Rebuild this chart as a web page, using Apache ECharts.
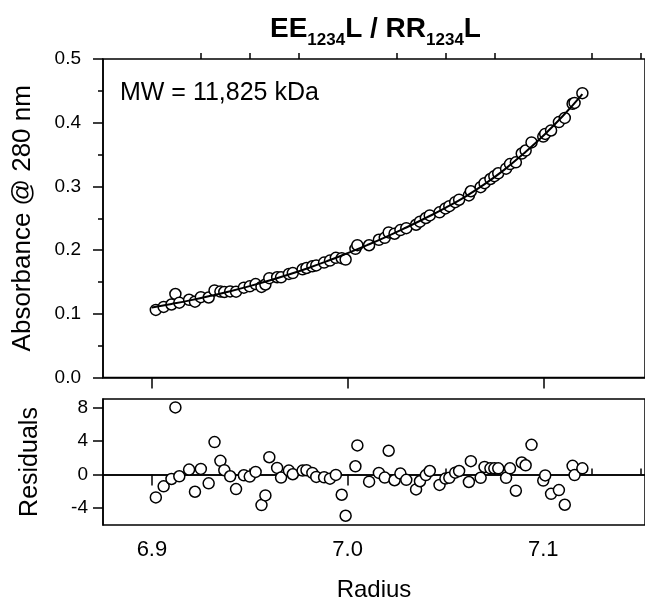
<!DOCTYPE html>
<html>
<head>
<meta charset="utf-8">
<script src="https://cdn.jsdelivr.net/npm/echarts@6/dist/echarts.min.js"></script>
<style>
  html, body { margin: 0; padding: 0; background: #fff; }
  #mainChart { width: 645px; height: 603px; }
</style>
</head>
<body>
<div id="mainChart"></div>
<script>
// fitted curve
const fitRadius = [6.90, 6.91, 6.92, 6.93, 6.94, 6.95, 6.96, 6.97, 6.98, 6.99, 7.00, 7.01,
  7.02, 7.03, 7.04, 7.05, 7.06, 7.07, 7.08, 7.09, 7.10, 7.11, 7.12];
const fitAbs = [0.1100, 0.1155, 0.1215, 0.1282, 0.1355, 0.1435, 0.1522, 0.1617, 0.1720, 0.1832,
  0.1952, 0.2078, 0.2212, 0.2355, 0.2505, 0.2662, 0.2835, 0.3035, 0.3260, 0.3515, 0.3795, 0.4105, 0.4450];

// measured points (radius, absorbance, residual)
const radius = [6.902, 6.906, 6.910, 6.912, 6.914, 6.919, 6.922, 6.925, 6.929, 6.932, 6.935, 6.937,
  6.940, 6.943, 6.947, 6.950, 6.953, 6.956, 6.958, 6.960, 6.964, 6.966, 6.970, 6.972,
  6.977, 6.979, 6.982, 6.984, 6.988, 6.991, 6.994, 6.997, 6.999, 7.004, 7.005, 7.011,
  7.016, 7.019, 7.021, 7.024, 7.027, 7.030, 7.035, 7.037, 7.040, 7.042, 7.047, 7.050,
  7.052, 7.055, 7.057, 7.062, 7.063, 7.068, 7.070, 7.073, 7.075, 7.077, 7.081, 7.083,
  7.086, 7.089, 7.091, 7.094, 7.100, 7.101, 7.104, 7.108, 7.111, 7.115, 7.116, 7.120];
const absorbance = [0.1061, 0.1108, 0.1146, 0.1311, 0.1175, 0.1220, 0.1191, 0.1261, 0.1256, 0.1367, 0.1349, 0.1342,
  0.1351, 0.1348, 0.1410, 0.1431, 0.1467, 0.1422, 0.1460, 0.1559, 0.1574, 0.1573, 0.1626, 0.1639,
  0.1698, 0.1719, 0.1746, 0.1760, 0.1804, 0.1835, 0.1879, 0.1873, 0.1852, 0.2020, 0.2077, 0.2076,
  0.2162, 0.2193, 0.2277, 0.2257, 0.2314, 0.2344, 0.2398, 0.2446, 0.2504, 0.2544, 0.2593, 0.2654,
  0.2690, 0.2753, 0.2791, 0.2859, 0.2924, 0.2988, 0.3051, 0.3116, 0.3161, 0.3206, 0.3279, 0.3350,
  0.3378, 0.3516, 0.3563, 0.3691, 0.3782, 0.3824, 0.3878, 0.4010, 0.4075, 0.4297, 0.4311, 0.4464];
const residual = [-2.72, -1.4, -0.52, 8.0, -0.2, 0.6, -2.04, 0.68, -1.04, 3.87, 1.64, 0.52,
  -0.2, -1.72, -0.08, -0.24, 0.32, -3.63, -2.48, 2.07, 0.8, -0.36, 0.48, 0.04,
  0.48, 0.52, 0.2, -0.28, -0.32, -0.48, -0.04, -2.4, -4.9, 0.99, 3.47, -0.84,
  0.2, -0.36, 2.84, -0.67, 0.12, -0.62, -1.76, -0.79, -0.06, 0.43, -1.23, -0.47,
  -0.38, 0.23, 0.43, -0.88, 1.6, -0.38, 0.91, 0.75, 0.75, 0.75, -0.38, 0.75,
  -1.92, 1.44, 1.11, 3.54, -0.71, -0.1, -2.29, -1.84, -3.59, 1.04, -0.06, 0.75];

// tick positions
const radiusMajor = [6.9, 7.0, 7.1];
const radiusMinor = [6.925, 6.95, 6.975, 7.025, 7.05, 7.075, 7.125, 7.15];
const residMajor = [-4, 0, 4, 8];
const residMinor = [-2, 2, 6];

const FONT = "Liberation Sans, Arial, Helvetica, sans-serif";

const myChart = echarts.init(document.getElementById("mainChart"));

function xAxisFor(grid, ticks, len, labels, name) {
  return {
    type: "value",
    gridIndex: grid,
    min: 6.875,
    max: 7.152,
    axisLine: { show: labels !== null || len > 8, lineStyle: { color: "#000", width: 1.5 } },
    axisTick: { show: true, customValues: ticks, length: len, lineStyle: { color: "#000", width: 1.5 } },
    axisLabel: labels
      ? { show: true, customValues: labels, color: "#000", fontSize: 22, fontFamily: FONT, margin: 14,
          formatter: (v) => v.toFixed(1) }
      : { show: false },
    splitLine: { show: false },
    name: name || "",
    nameLocation: "middle",
    nameGap: 53,
    nameTextStyle: { color: "#000", fontSize: 24, fontFamily: FONT },
  };
}

const option = {
  animation: false,
  backgroundColor: "#fff",
  title: {
    left: 265,
    top: 10,
    text: "{a|EE}{s|1234}{a|L / RR}{s|1234}{a|L}",
    textStyle: {
      rich: {
        a: { fontSize: 28, fontWeight: "bold", fontFamily: FONT, color: "#000", lineHeight: 34, verticalAlign: "top" },
        s: { fontSize: 17, fontWeight: "bold", fontFamily: FONT, color: "#000", lineHeight: 17, verticalAlign: "bottom" },
      },
    },
  },
  graphic: [
    {
      type: "text",
      left: 120,
      top: 81,
      style: { text: "MW = 11,825 kDa", font: "25px " + FONT, fill: "#000" },
    },
  ],
  grid: [
    { left: 103, top: 59, right: -2, height: 318.5, show: true, borderColor: "#000", borderWidth: 1.5 },
    { left: 103, top: 399, right: -2, height: 127, show: true, borderColor: "#000", borderWidth: 1.5 },
  ],
  xAxis: [
    xAxisFor(0, radiusMajor, 11, null),
    xAxisFor(0, radiusMinor, 6, null),
    xAxisFor(1, radiusMajor, 11, radiusMajor, "Radius"),
    xAxisFor(1, radiusMinor, 6, null),
  ],
  yAxis: [
    {
      type: "value",
      gridIndex: 0,
      min: 0,
      max: 0.5,
      interval: 0.1,
      axisLine: { show: true, lineStyle: { color: "#000", width: 1.5 } },
      axisTick: { length: 10, lineStyle: { color: "#000", width: 1.5 } },
      minorTick: { show: true, splitNumber: 2, length: 5, lineStyle: { color: "#000", width: 1.5 } },
      axisLabel: { color: "#000", fontSize: 19, fontFamily: FONT, margin: 22, formatter: (v) => v.toFixed(1) },
      splitLine: { show: false },
      name: "Absorbance @ 280 nm",
      nameLocation: "middle",
      nameGap: 67,
      nameTextStyle: { color: "#000", fontSize: 26, fontFamily: FONT },
    },
    {
      type: "value",
      gridIndex: 1,
      min: -6,
      max: 9,
      axisLine: { show: true, lineStyle: { color: "#000", width: 1.5 } },
      axisTick: { customValues: residMajor, length: 10, lineStyle: { color: "#000", width: 1.5 } },
      axisLabel: { customValues: residMajor, color: "#000", fontSize: 19, fontFamily: FONT, margin: 15 },
      splitLine: { show: false },
      name: "Residuals",
      nameLocation: "middle",
      nameGap: 60,
      nameTextStyle: { color: "#000", fontSize: 25, fontFamily: FONT },
    },
    {
      type: "value",
      gridIndex: 1,
      min: -6,
      max: 9,
      axisLine: { show: false },
      axisTick: { customValues: residMinor, length: 5, lineStyle: { color: "#000", width: 1.5 } },
      axisLabel: { show: false },
      splitLine: { show: false },
    },
  ],
  series: [
    {
      name: "data",
      type: "scatter",
      xAxisIndex: 0,
      yAxisIndex: 0,
      data: radius.map((r, i) => [r, absorbance[i]]),
      symbol: "circle",
      symbolSize: 11,
      itemStyle: { color: "#fff", borderColor: "#000", borderWidth: 1.5, opacity: 1 },
      z: 2,
    },
    {
      name: "fit",
      type: "line",
      xAxisIndex: 0,
      yAxisIndex: 0,
      data: fitRadius.map((r, i) => [r, fitAbs[i]]),
      smooth: true,
      symbol: "none",
      lineStyle: { color: "#000", width: 2 },
      z: 3,
    },
    {
      name: "residuals",
      type: "scatter",
      xAxisIndex: 2,
      yAxisIndex: 1,
      data: radius.map((r, i) => [r, residual[i]]),
      symbol: "circle",
      symbolSize: 11,
      itemStyle: { color: "#fff", borderColor: "#000", borderWidth: 1.5, opacity: 1 },
      z: 3,
      markLine: {
        silent: true,
        symbol: "none",
        label: { show: false },
        lineStyle: { color: "#000", width: 1.5, type: "solid" },
        data: [{ yAxis: 0 }],
        z: 2,
      },
    },
  ],
};

myChart.setOption(option);
</script>
</body>
</html>
